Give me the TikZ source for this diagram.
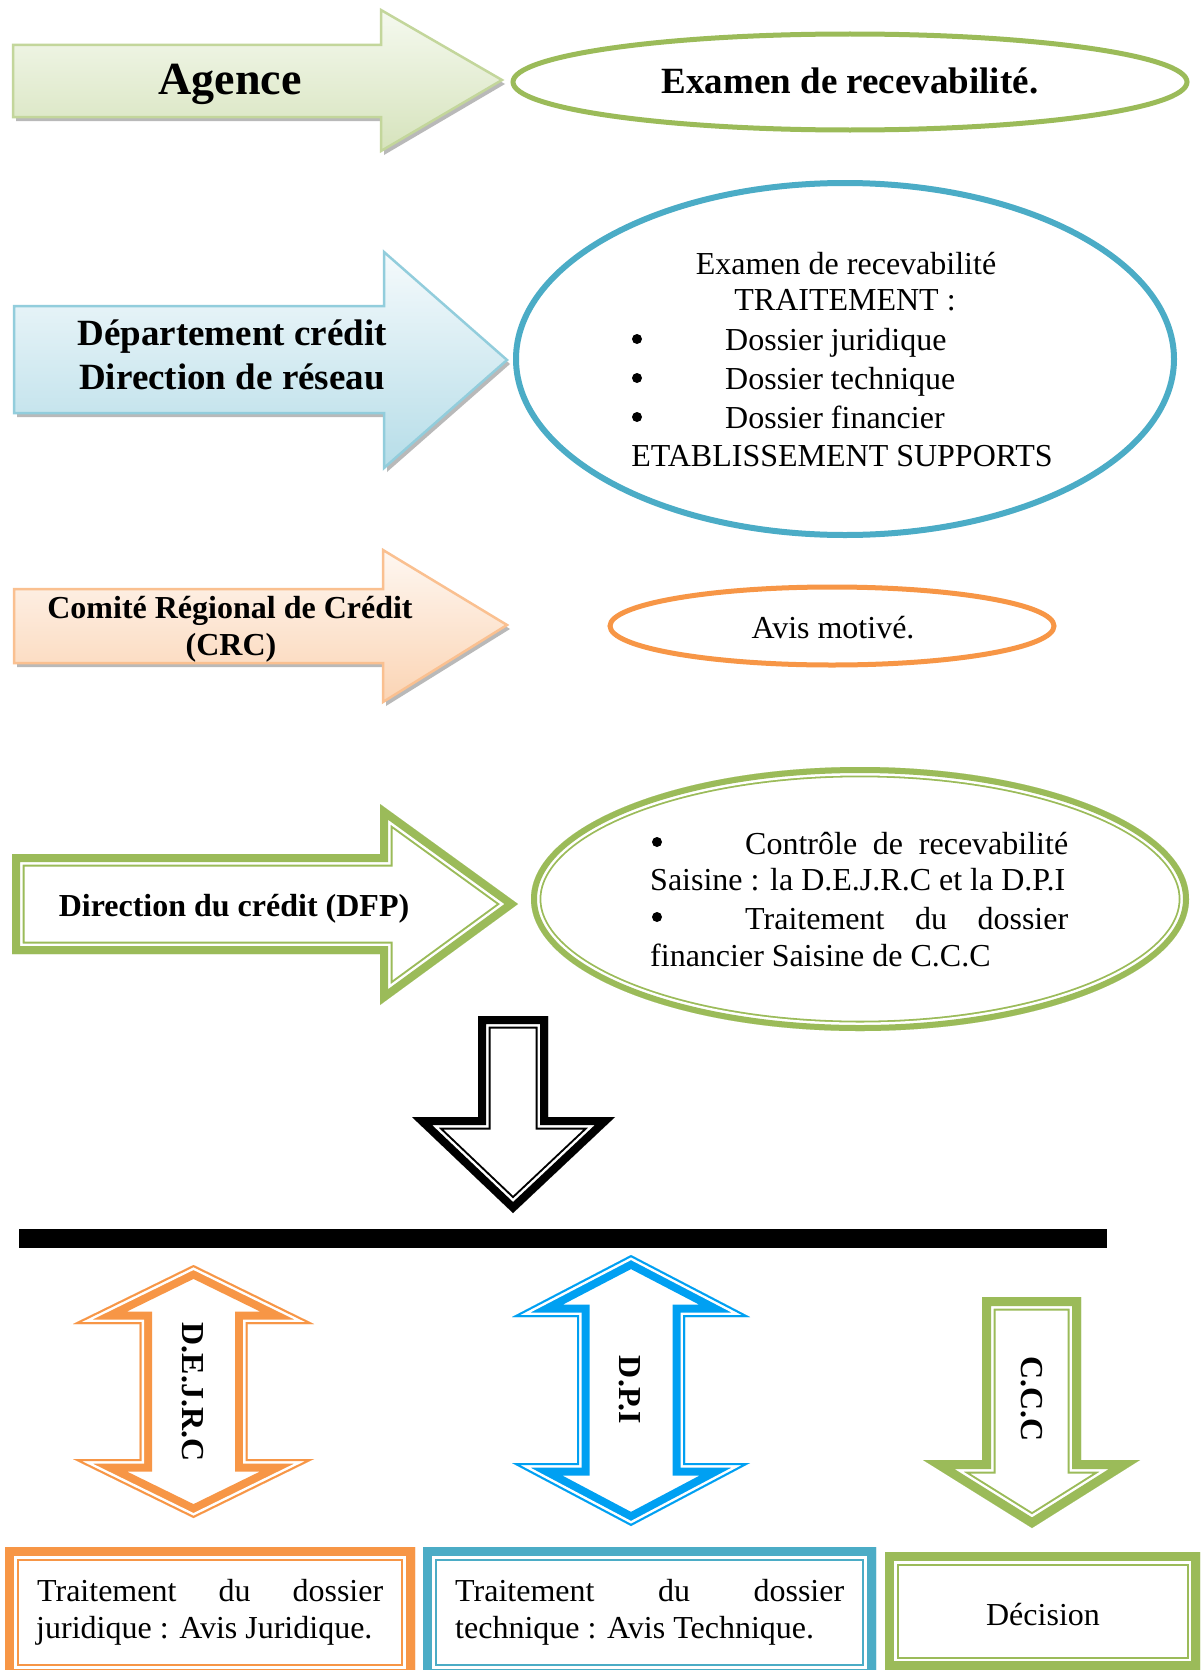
\documentclass[tikz,border=0pt]{standalone}
\usepackage{fontspec}
\setmainfont{Liberation Serif}
\definecolor{grn}{HTML}{9BBB59}
\definecolor{grnL}{HTML}{C3D69B}
\definecolor{grnT}{HTML}{F5F9EF}
\definecolor{grnB}{HTML}{D6E3BC}
\definecolor{bluL}{HTML}{92CDDC}
\definecolor{bluT}{HTML}{F5FAFC}
\definecolor{bluB}{HTML}{B6DDE8}
\definecolor{orgL}{HTML}{FAC090}
\definecolor{orgT}{HTML}{FEF7F1}
\definecolor{orgB}{HTML}{FBD4B4}
\definecolor{org}{HTML}{F79646}
\definecolor{aqua}{HTML}{4BACC6}
\definecolor{sky}{HTML}{00A0F2}
\newcommand\dblline[5]{%
  \begin{scope}
    \fill[white] #5;
    \clip #5;
    \draw[#1, line join=miter, line width={2*(#2+#3+#4)}] #5;
    \draw[white, line join=miter, line width={2*(#2+#3)}] #5;
    \draw[#1, line join=miter, line width={2*#2}] #5;
  \end{scope}}
\tikzset{
  fn/.style={font=\fontsize{32}{38}\selectfont, inner sep=0pt},
  fb/.style={font=\fontsize{32}{38}\selectfont\bfseries, inner sep=0pt},
  fbl/.style={font=\fontsize{37}{44}\selectfont\bfseries, inner sep=0pt},
  fbx/.style={font=\fontsize{46}{52}\selectfont\bfseries, inner sep=0pt},
  bul/.style={circle, fill=black, inner sep=0pt, minimum size=10pt},
  shad/.style={fill=gray!55, shift={(3,4)}},
  gradgreen/.style={top color=grnT, bottom color=grnB, draw=grnL, line width=2.5},
  gradblue/.style={top color=bluT, bottom color=bluB, draw=bluL, line width=2.5},
  gradorange/.style={top color=orgT, bottom color=orgB, draw=orgL, line width=2.5},
}
\begin{document}
\begin{tikzpicture}[x=1pt,y=-1pt]
\useasboundingbox (0,0) rectangle (1200,1670);
\clip (0,0) rectangle (1200,1670);
\fill[white] (0,0) rectangle (1200,1670);

% ---- Row 1: Agence ----
\fill[shad] (13,45) -- (381,45) -- (381,10) -- (502,80) -- (381,151) -- (381,117) -- (13,117) -- cycle;
\draw[gradgreen] (13,45) -- (381,45) -- (381,10) -- (502,80) -- (381,151) -- (381,117) -- (13,117) -- cycle;
\node[fbx, anchor=base] (agence) at (230,95) {Agence};
\draw[grn, line width=5] (850,82) ellipse (337pt and 48pt);
\node[fbl, anchor=base] (examen) at (850,93) {Examen de recevabilité.};

% ---- Row 2: Departement ----
\fill[shad] (14,306) -- (384,306) -- (384,252) -- (507,360) -- (384,468) -- (384,413) -- (14,413) -- cycle;
\draw[gradblue] (14,306) -- (384,306) -- (384,252) -- (507,360) -- (384,468) -- (384,413) -- (14,413) -- cycle;
\node[fbl, anchor=base] (dept1) at (232,345) {Département crédit};
\node[fbl, anchor=base] (dept2) at (232,389) {Direction de réseau};
\draw[aqua, line width=6] (845,359) ellipse (329pt and 176pt);
\node[fn, anchor=base] (e2a) at (846,274) {Examen de recevabilité};
\node[fn, anchor=base] (e2b) at (845,310) {TRAITEMENT :};
\node[bul] (b1) at (637,339) {};
\node[fn, anchor=base west] (e2c) at (725,350) {Dossier juridique};
\node[bul] (b2) at (637,378) {};
\node[fn, anchor=base west] (e2d) at (725,389) {Dossier technique};
\node[bul] (b3) at (637,417) {};
\node[fn, anchor=base west] (e2e) at (725,428) {Dossier financier};
\node[fn, anchor=base] (e2f) at (842,466) {ETABLISSEMENT SUPPORTS};

% ---- Row 3: CRC ----
\fill[shad] (14,589) -- (383,589) -- (383,550) -- (507,625) -- (383,702) -- (383,663) -- (14,663) -- cycle;
\draw[gradorange] (14,589) -- (383,589) -- (383,550) -- (507,625) -- (383,702) -- (383,663) -- (14,663) -- cycle;
\node[fb, anchor=base] (crc1) at (230,618) {Comité Régional de Crédit};
\node[fb, anchor=base] (crc2) at (231,655) {(CRC)};
\draw[org, line width=5] (832,626) ellipse (222pt and 39pt);
\node[fn, anchor=base] (avis) at (833,638) {Avis motivé.};

% ---- Row 4: DFP ----
\dblline{grn}{8}{2.5}{2}{(12,854) -- (380,854) -- (380,804) -- (518,904) -- (380,1005) -- (380,954) -- (12,954) -- cycle}
\node[fb, anchor=base] (dfp) at (234,916) {Direction du crédit (DFP)};
\dblline{grn}{6}{2.5}{1.8}{(860,899) ellipse (329pt and 132pt)}
\node[bul] (b4) at (657,842) {};
\node[fn, anchor=base west] (e4a) at (650,854) {\hbox to 418pt{\hskip 95pt Contrôle\hfill de\hfill recevabilité}};
\node[fn, anchor=base west] (e4b) at (650,890) {\hbox to 418pt{Saisine : la D.E.J.R.C et la D.P.I\hfill}};
\node[bul] (b5) at (657,917) {};
\node[fn, anchor=base west] (e4c) at (650,929) {\hbox to 418pt{\hskip 95pt Traitement\hfill du\hfill dossier}};
\node[fn, anchor=base west] (e4d) at (650,966) {financier Saisine de C.C.C};

% ---- Black down arrow and bar ----
\dblline{black}{8}{2.5}{2}{(478,1016) -- (548,1016) -- (548,1117) -- (615,1117) -- (513,1213) -- (412,1117) -- (478,1117) -- cycle}
\fill[black] (19,1229) rectangle (1107,1248);

% ---- Bottom arrows ----
\dblline{org}{2}{2.5}{8}{(193.5,1265) -- (314,1324) -- (247.5,1324) -- (247.5,1459) -- (314,1459) -- (193.5,1518) -- (73,1459) -- (139.5,1459) -- (139.5,1324) -- (73,1324) -- cycle}
\node[fb, rotate=-90] (dejrc) at (193,1392) {D.E.J.R.C};
\dblline{sky}{2}{2.5}{8}{(631,1255) -- (750,1317) -- (685,1317) -- (685,1463) -- (750,1463) -- (631,1526) -- (512,1463) -- (577,1463) -- (577,1317) -- (512,1317) -- cycle}
\node[fb, rotate=-90] (dpi) at (630,1390) {D.P.I};
\dblline{grn}{9}{2.5}{2}{(982,1297) -- (1081,1297) -- (1081,1460) -- (1140,1460) -- (1032,1528) -- (923,1460) -- (982,1460) -- cycle}
\node[fb, rotate=-90] (ccc) at (1032,1399) {C.C.C};

% ---- Bottom boxes ----
\dblline{org}{9}{2.7}{2.3}{(5,1547) rectangle (415,1678)}
\node[fn, anchor=base west] (bx1a) at (37,1601) {\hbox to 346pt{Traitement\hfill du\hfill dossier}};
\node[fn, anchor=base west] (bx1b) at (36,1638) {juridique : Avis Juridique.};
\dblline{aqua}{9}{2.7}{2.3}{(423,1547) rectangle (876,1678)}
\node[fn, anchor=base west] (bx2a) at (455,1601) {\hbox to 389pt{Traitement\hfill du\hfill dossier}};
\node[fn, anchor=base west] (bx2b) at (455,1638) {technique : Avis Technique.};
\dblline{grn}{9}{2.5}{2}{(885,1552) rectangle (1200,1670)}
\node[fn, anchor=base] (decision) at (1043,1625) {Décision};
\end{tikzpicture}
\end{document}
